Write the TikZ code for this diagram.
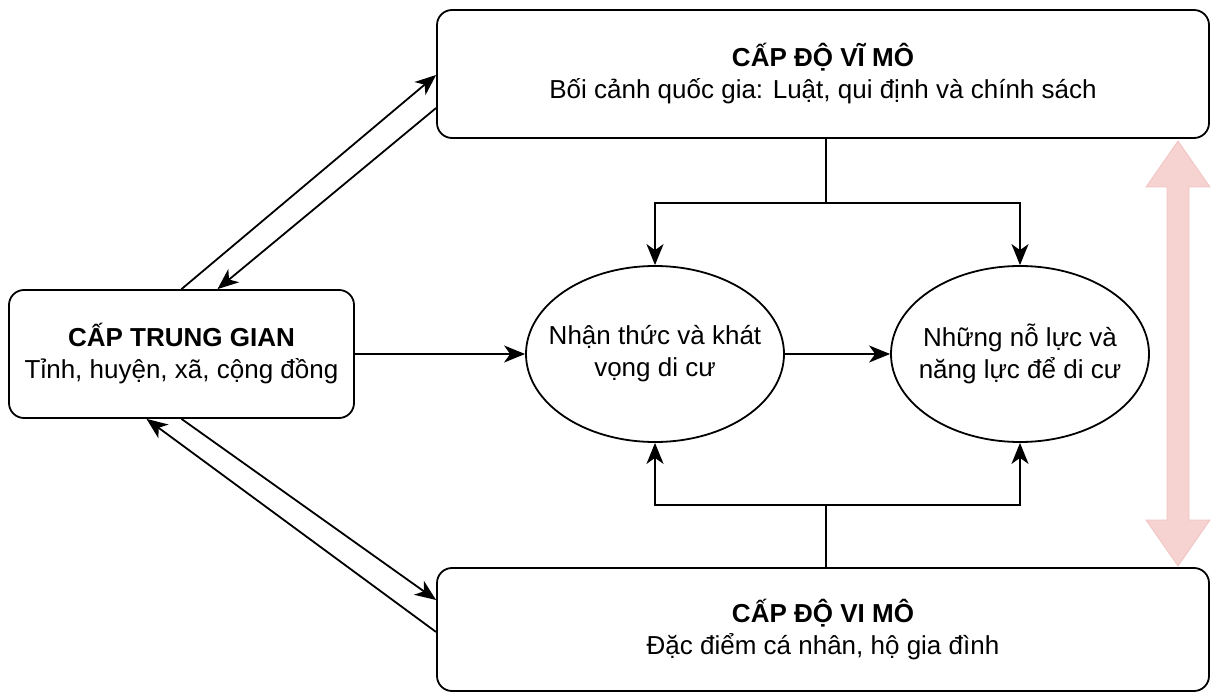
\documentclass[tikz,border=0pt]{standalone}
\usepackage{fontspec}
\setmainfont{Liberation Sans}
\usetikzlibrary{arrows.meta,shapes.geometric}
\definecolor{pinkfill}{HTML}{F6D3D1}
\definecolor{pinkline}{HTML}{F0C4C2}
\begin{document}
\begin{tikzpicture}[x=1pt,y=-1pt,
  txt/.style={font=\fontsize{26}{32}\selectfont},
  box/.style={draw, line width=1.8pt, rounded corners=15pt, align=center, inner sep=0pt, txt},
  oval/.style={draw, ellipse, line width=1.8pt, minimum width=258pt, minimum height=176pt, inner xsep=-16pt, inner ysep=0pt, align=center, txt},
  arr/.style={line width=1.8pt, -{Stealth[length=21pt,width=17pt,inset=6pt]}},
  ln/.style={line width=1.8pt}]
\useasboundingbox (0,0) rectangle (1211,695);
% boxes
\node[box, minimum width=772pt, minimum height=128pt] (top) at (823,74)
  {\textbf{CẤP ĐỘ VĨ MÔ}\\Bối cảnh quốc gia: Luật, qui định và chính sách};
\node[box, minimum width=345pt, minimum height=128pt] (left) at (181.5,354)
  {\textbf{CẤP TRUNG GIAN}\\Tỉnh, huyện, xã, cộng đồng};
\node[box, minimum width=772pt, minimum height=123pt] (bot) at (823,629.5)
  {\textbf{CẤP ĐỘ VI MÔ}\\Đặc điểm cá nhân, hộ gia đình};
% ellipses
\node[oval] (e1) at (655,354) {Nhận thức và khát\\vọng di cư};
\node[oval] (e2) at (1020,354) {Những nỗ lực và\\năng lực để di cư};
% top connectors
\coordinate (tj) at ([xshift=3pt]top.south |- 0,203);
\draw[ln] ([xshift=3pt]top.south) -- (tj);
\draw[arr] (tj) -| (e1.north);
\draw[arr] (tj) -| (e2.north);
% bottom connectors
\coordinate (bj) at ([xshift=3pt]bot.north |- 0,505);
\draw[ln] ([xshift=3pt]bot.north) -- (bj);
\draw[arr] (bj) -| (e1.south);
\draw[arr] (bj) -| (e2.south);
% horizontal
\draw[arr] (left.east) -- (e1.west);
\draw[arr] (e1.east) -- (e2.west);
% diagonals
\draw[arr] (left.north) -- ([yshift=-1pt]top.west);
\draw[arr] ([yshift=-34pt]top.west) -- ([xshift=36pt]left.north);
\draw[arr] (left.south) -- ([yshift=29.5pt]bot.west);
\draw[arr] ([yshift=-2.5pt]bot.west) -- ([xshift=-35pt]left.south);
% pink double arrow
\draw[pinkline, fill=pinkfill, line width=0.8pt]
  (1178,141) -- (1210,187) -- (1189,187) -- (1189,520) -- (1210,520) -- (1178,566)
  -- (1146,520) -- (1167,520) -- (1167,187) -- (1146,187) -- cycle;
\end{tikzpicture}
\end{document}
